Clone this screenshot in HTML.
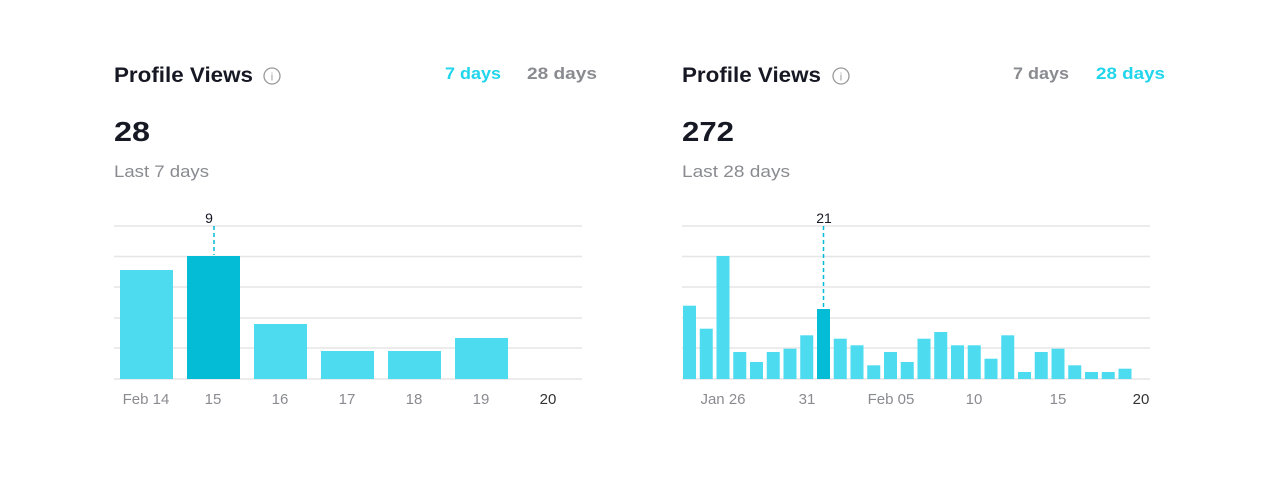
<!DOCTYPE html>
<html><head><style>
html,body{margin:0;padding:0;background:#fff;}
svg{display:block;font-family:"Liberation Sans",sans-serif;}
</style></head><body>
<svg width="1280" height="480" viewBox="0 0 1280 480" xmlns="http://www.w3.org/2000/svg">
<g id="L">
<text x="114" y="82" font-size="21" font-weight="bold" fill="#161823" textLength="139" lengthAdjust="spacingAndGlyphs">Profile Views</text>
<circle cx="272" cy="76" r="8" fill="none" stroke="#999" stroke-width="1.3"/>
<text x="272" y="80.5" font-size="11" fill="#999" text-anchor="middle">i</text>
<text x="445" y="79" font-size="17" font-weight="bold" fill="#20d5ec" textLength="56" lengthAdjust="spacingAndGlyphs">7 days</text>
<text x="527" y="79" font-size="17" font-weight="bold" fill="#8a8b91" textLength="70" lengthAdjust="spacingAndGlyphs">28 days</text>
<text x="114" y="141" font-size="28" font-weight="bold" fill="#161823" textLength="36" lengthAdjust="spacingAndGlyphs">28</text>
<text x="114" y="177" font-size="17" fill="#8a8b91" textLength="95" lengthAdjust="spacingAndGlyphs">Last 7 days</text>
<g stroke="#e6e6e6" stroke-width="1.5">
<line x1="114" x2="582" y1="226" y2="226"/><line x1="114" x2="582" y1="256.5" y2="256.5"/>
<line x1="114" x2="582" y1="287" y2="287"/><line x1="114" x2="582" y1="318" y2="318"/>
<line x1="114" x2="582" y1="348" y2="348"/><line x1="114" x2="582" y1="379" y2="379"/>
</g>
<g fill="#4ddcef">
<rect x="120" y="270" width="53" height="109"/>
<rect x="254" y="324" width="53" height="55"/>
<rect x="321" y="351" width="53" height="28"/>
<rect x="388" y="351" width="53" height="28"/>
<rect x="455" y="338" width="53" height="41"/>
</g>
<rect x="187" y="256" width="53" height="123" fill="#05bcd6"/>
<line x1="214" x2="214" y1="226" y2="255" stroke="#05bcd6" stroke-width="1.5" stroke-dasharray="4,3"/>
<text x="209" y="223" font-size="14" fill="#161823" text-anchor="middle">9</text>
<g font-size="15" fill="#8a8b91" text-anchor="middle">
<text x="146" y="404">Feb 14</text><text x="213" y="404">15</text><text x="280" y="404">16</text>
<text x="347" y="404">17</text><text x="414" y="404">18</text><text x="481" y="404">19</text>
<text x="548" y="404" fill="#333">20</text>
</g>
</g>
<g id="R">
<text x="682" y="82" font-size="21" font-weight="bold" fill="#161823" textLength="139" lengthAdjust="spacingAndGlyphs">Profile Views</text>
<circle cx="841" cy="76" r="8" fill="none" stroke="#999" stroke-width="1.3"/>
<text x="841" y="80.5" font-size="11" fill="#999" text-anchor="middle">i</text>
<text x="1013" y="79" font-size="17" font-weight="bold" fill="#8a8b91" textLength="56" lengthAdjust="spacingAndGlyphs">7 days</text>
<text x="1096" y="79" font-size="17" font-weight="bold" fill="#20d5ec" textLength="69" lengthAdjust="spacingAndGlyphs">28 days</text>
<text x="682" y="141" font-size="28" font-weight="bold" fill="#161823" textLength="52" lengthAdjust="spacingAndGlyphs">272</text>
<text x="682" y="177" font-size="17" fill="#8a8b91" textLength="108" lengthAdjust="spacingAndGlyphs">Last 28 days</text>
<g stroke="#e6e6e6" stroke-width="1.5">
<line x1="682" x2="1150" y1="226" y2="226"/><line x1="682" x2="1150" y1="256.5" y2="256.5"/>
<line x1="682" x2="1150" y1="287" y2="287"/><line x1="682" x2="1150" y1="318" y2="318"/>
<line x1="682" x2="1150" y1="348" y2="348"/><line x1="682" x2="1150" y1="379" y2="379"/>
</g>
<g fill="#4ddcef">
<rect x="683" y="305.7" width="13" height="73.3"/>
<rect x="699.75" y="328.7" width="13" height="50.3"/>
<rect x="716.5" y="256" width="13" height="123"/>
<rect x="733.25" y="352" width="13" height="27"/>
<rect x="750" y="362" width="13" height="17"/>
<rect x="766.75" y="352" width="13" height="27"/>
<rect x="783.5" y="348.7" width="13" height="30.3"/>
<rect x="800.25" y="335.3" width="13" height="43.7"/>
<rect x="833.75" y="338.7" width="13" height="40.3"/>
<rect x="850.5" y="345.3" width="13" height="33.7"/>
<rect x="867.25" y="365.3" width="13" height="13.7"/>
<rect x="884" y="352" width="13" height="27"/>
<rect x="900.75" y="362" width="13" height="17"/>
<rect x="917.5" y="338.7" width="13" height="40.3"/>
<rect x="934.25" y="332" width="13" height="47"/>
<rect x="951" y="345.3" width="13" height="33.7"/>
<rect x="967.75" y="345.3" width="13" height="33.7"/>
<rect x="984.5" y="358.7" width="13" height="20.3"/>
<rect x="1001.25" y="335.3" width="13" height="43.7"/>
<rect x="1018" y="372" width="13" height="7"/>
<rect x="1034.75" y="352" width="13" height="27"/>
<rect x="1051.5" y="348.7" width="13" height="30.3"/>
<rect x="1068.25" y="365.3" width="13" height="13.7"/>
<rect x="1085" y="372" width="13" height="7"/>
<rect x="1101.75" y="372" width="13" height="7"/>
<rect x="1118.5" y="368.7" width="13" height="10.3"/>
</g>
<rect x="817" y="309" width="13" height="70" fill="#05bcd6"/>
<line x1="823.5" x2="823.5" y1="226" y2="308" stroke="#05bcd6" stroke-width="1.5" stroke-dasharray="4,3"/>
<text x="824" y="223" font-size="14" fill="#161823" text-anchor="middle">21</text>
<g font-size="15" fill="#8a8b91" text-anchor="middle">
<text x="723" y="404">Jan 26</text><text x="807" y="404">31</text><text x="891" y="404">Feb 05</text>
<text x="974" y="404">10</text><text x="1058" y="404">15</text>
<text x="1141" y="404" fill="#333">20</text>
</g>
</g>
</svg>
</body></html>
